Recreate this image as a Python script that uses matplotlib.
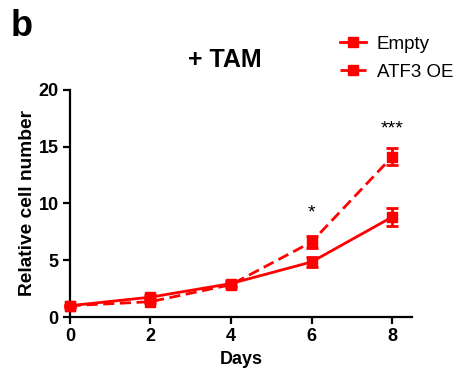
import matplotlib
matplotlib.use("Agg")
import matplotlib.pyplot as plt
from matplotlib.lines import Line2D

plt.rcParams["font.family"] = ["Liberation Sans", "DejaVu Sans"]

# growth curves (+TAM)
days = [0, 2, 4, 6, 8]
empty_mean = [1.0, 1.75, 2.95, 4.85, 8.8]
empty_err = [0.1, 0.15, 0.2, 0.45, 0.8]
atf3_mean = [1.0, 1.35, 2.85, 6.6, 14.1]
atf3_err = [0.1, 0.15, 0.2, 0.55, 0.75]

sig_days = [6, 8]
sig_y = [9.2, 16.6]
sig_labels = ["*", "***"]

red = "#ff0000"
dash = (0, (4, 2))

fig = plt.figure(figsize=(4.6, 3.73), dpi=100)
ax = fig.add_axes([0.152, 0.150, 0.744, 0.609])

ax.errorbar(days, empty_mean, yerr=empty_err, color=red, lw=2, ls="-",
            marker="s", ms=6.5, capsize=4.5, capthick=2, elinewidth=2,
            clip_on=False, zorder=3)
ax.errorbar(days, atf3_mean, yerr=atf3_err, color=red, lw=2, ls=dash,
            marker="s", ms=6.5, capsize=4.5, capthick=2, elinewidth=2,
            clip_on=False, zorder=3)

for d, y, s in zip(sig_days, sig_y, sig_labels):
    ax.text(d, y, s, ha="center", va="center", fontsize=14)

ax.set_xlim(0, 8.5)
ax.set_ylim(0, 20)
ax.set_xticks(days)
ax.set_yticks([0, 5, 10, 15, 20])
for sp in ["top", "right"]:
    ax.spines[sp].set_visible(False)
for sp in ["left", "bottom"]:
    ax.spines[sp].set_linewidth(1.6)
ax.tick_params(direction="out", length=5, width=1.6, labelsize=13, pad=3)
for lab in ax.get_xticklabels() + ax.get_yticklabels():
    lab.set_fontweight("bold")

ax.set_xlabel("Days", fontsize=13, fontweight="bold")
ax.set_ylabel("Relative cell number", fontsize=13.8, fontweight="bold",
              labelpad=2)

fig.text(225 / 460, 1 - 60 / 373, "+ TAM", ha="center", va="center",
         fontsize=18, fontweight="bold")
fig.text(11 / 460, 1 - 26 / 373, "b", ha="left", va="center",
         fontsize=26, fontweight="bold")

handles = [
    Line2D([], [], color=red, lw=2, ls="-", marker="s", ms=6.5),
    Line2D([], [], color=red, lw=2, ls=dash, marker="s", ms=6.5),
]
fig.legend(handles, ["Empty", "ATF3 OE"], loc="upper left",
           bbox_to_anchor=(332 / 460, 1 - 28 / 373),
           frameon=False, fontsize=13.5, handlelength=1.4,
           handletextpad=0.6, labelspacing=0.6, borderaxespad=0)

fig.savefig("out.png", dpi=100)
